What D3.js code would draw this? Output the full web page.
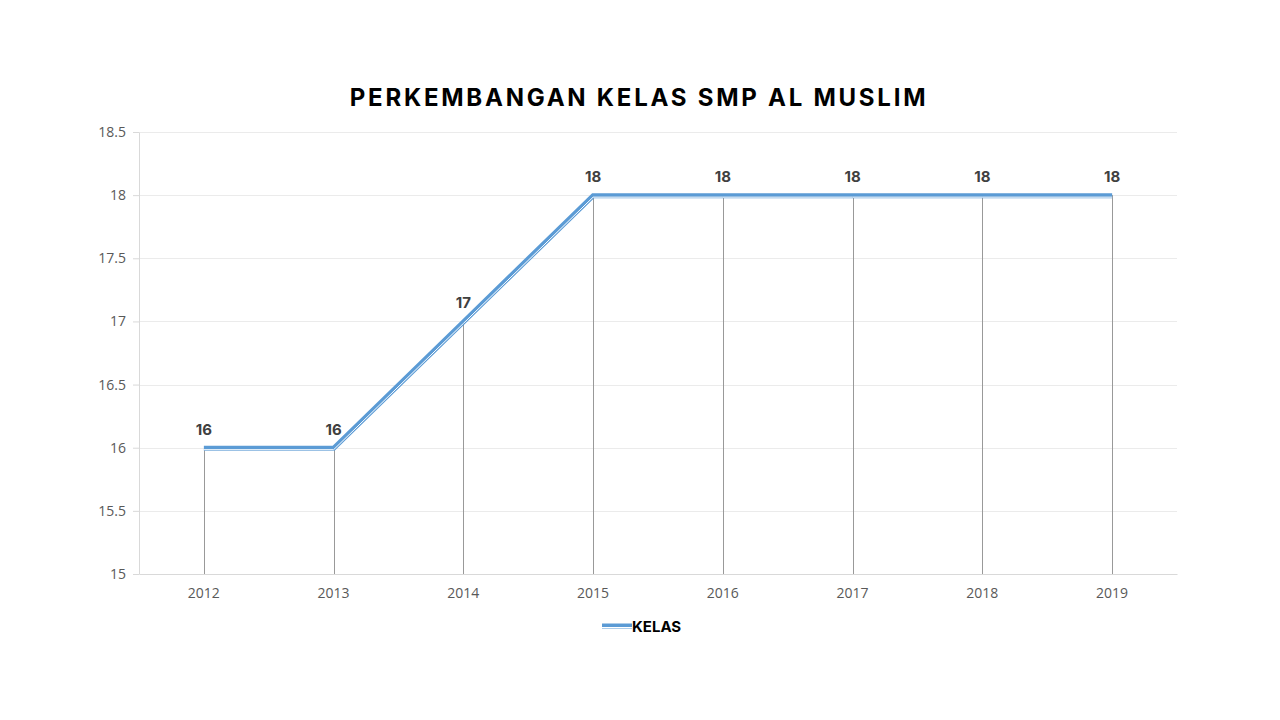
<!DOCTYPE html>
<html>
<head>
<meta charset="utf-8">
<script src="https://cdn.jsdelivr.net/npm/d3@7"></script>
<style>
  body { margin: 0; background: #fff; }
  svg { display: block; }
</style>
</head>
<body>
<div id="chart"></div>
<script>
// data
var years = ["2012", "2013", "2014", "2015", "2016", "2017", "2018", "2019"];
var kelas = [16, 16, 17, 18, 18, 18, 18, 18];
var yTicks = [15, 15.5, 16, 16.5, 17, 17.5, 18, 18.5];
var seriesName = "KELAS";
var chartTitle = "PERKEMBANGAN KELAS SMP AL MUSLIM";

var W = 1280, H = 720;
var margin = { top: 132, right: 103, bottom: 146, left: 139 },
    width = W - margin.left - margin.right,
    height = H - margin.top - margin.bottom;

var svg = d3.select("#chart")
    .append("svg")
    .attr("width", W)
    .attr("height", H);

// title
svg.append("text")
    .attr("x", 639)
    .attr("y", 106)
    .attr("text-anchor", "middle")
    .style("font-family", "Inter, 'Open Sans', sans-serif")
    .style("font-weight", "700")
    .style("font-size", "24px")
    .style("letter-spacing", "2.75px")
    .style("fill", "#000")
    .text(chartTitle);

var plot = svg.append("g")
    .attr("transform", "translate(" + margin.left + "," + margin.top + ")");

var x = d3.scaleBand()
    .domain(years)
    .range([0, width])
    .padding(0);

var y = d3.scaleLinear()
    .domain([15, 18.5])
    .range([height, 0]);

// gridlines
plot.append("g")
    .selectAll("line")
    .data(yTicks.slice(1))
    .enter()
    .append("line")
    .attr("x1", 0)
    .attr("x2", width)
    .attr("y1", d => Math.round(y(d)) + 0.5)
    .attr("y2", d => Math.round(y(d)) + 0.5)
    .attr("stroke", "#ebebeb")
    .attr("stroke-width", 1);

// y axis
var yAxis = plot.append("g")
    .call(d3.axisLeft(y).tickValues(yTicks).tickSize(6).tickSizeOuter(0).tickPadding(7)
        .tickFormat(d3.format("")));
yAxis.select(".domain").attr("stroke", "#d9d9d9");
yAxis.selectAll(".tick line").attr("stroke", "#d9d9d9");
yAxis.selectAll("text")
    .style("font-family", "'Open Sans', sans-serif")
    .style("font-size", "14px")
    .attr("fill", "#595959");

// x axis
var xAxis = plot.append("g")
    .attr("transform", "translate(0," + height + ")")
    .call(d3.axisBottom(x).tickSize(0).tickPadding(14));
xAxis.select(".domain").attr("stroke", "#d9d9d9");
xAxis.selectAll("text")
    .style("font-family", "'Open Sans', sans-serif")
    .style("font-size", "14px")
    .attr("fill", "#595959");

var cx = d => x(d.year) + x.bandwidth() / 2;
var pts = years.map((yr, i) => ({ year: yr, value: kelas[i] }));

// drop lines
plot.append("g")
    .selectAll("line")
    .data(pts)
    .enter()
    .append("line")
    .attr("x1", d => Math.round(cx(d)) + 0.5)
    .attr("x2", d => Math.round(cx(d)) + 0.5)
    .attr("y1", d => y(d.value))
    .attr("y2", height)
    .attr("stroke", "#999999")
    .attr("stroke-width", 1);

// compound line (thick + thin)
var line = d3.line()
    .x(d => cx(d))
    .y(d => y(d.value) + 0.5);
var lineGap = d3.line()
    .x(d => cx(d))
    .y(d => y(d.value) + 2);

plot.append("path")
    .datum(pts)
    .attr("d", line)
    .attr("fill", "none")
    .attr("stroke", "#5b9bd5")
    .attr("stroke-width", 5)
    .attr("stroke-linejoin", "miter");
plot.append("path")
    .datum(pts)
    .attr("d", lineGap)
    .attr("fill", "none")
    .attr("stroke", "#fff")
    .attr("stroke-width", 1)
    .attr("stroke-linejoin", "miter");

// data labels
plot.append("g")
    .selectAll("text")
    .data(pts)
    .enter()
    .append("text")
    .attr("x", d => cx(d))
    .attr("y", d => y(d.value) - 13)
    .attr("text-anchor", "middle")
    .style("font-family", "Inter, 'Open Sans', sans-serif")
    .style("font-weight", "700")
    .style("font-size", "15px")
    .attr("fill", "#404040")
    .text(d => d.value);

// legend
var legend = svg.append("g")
    .attr("transform", "translate(602,626)");
legend.append("line")
    .attr("x1", 0).attr("x2", 30)
    .attr("y1", 0).attr("y2", 0)
    .attr("stroke", "#5b9bd5")
    .attr("stroke-width", 5);
legend.append("line")
    .attr("x1", 0).attr("x2", 30)
    .attr("y1", 1.5).attr("y2", 1.5)
    .attr("stroke", "#fff")
    .attr("stroke-width", 1);
legend.append("text")
    .attr("x", 30)
    .attr("y", 5.5)
    .style("font-family", "Inter, 'Open Sans', sans-serif")
    .style("font-weight", "700")
    .style("font-size", "15px")
    .attr("fill", "#000")
    .text(seriesName);
</script>
</body>
</html>
